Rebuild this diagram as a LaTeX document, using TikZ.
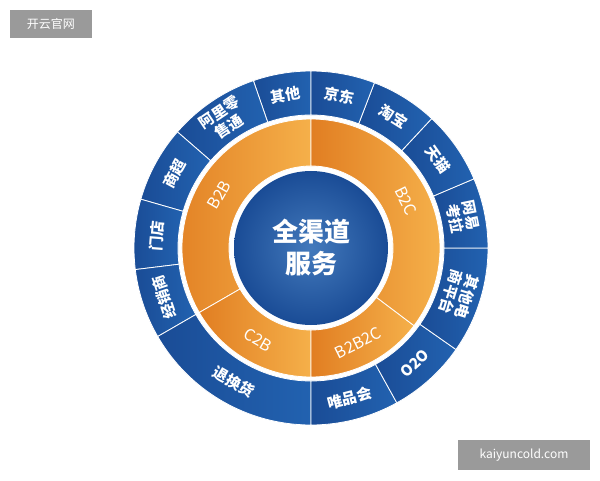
\documentclass[tikz,border=0pt]{standalone}
\usepackage{fontspec}
\newfontfamily\cjk{Noto Sans CJK SC}
\definecolor{ringblue}{HTML}{2262B0}
\definecolor{ringbluedk}{HTML}{1A4C96}
\definecolor{ringorange}{HTML}{E17E22}
\definecolor{ringorangelt}{HTML}{F5B04A}
\definecolor{markgray}{HTML}{9A9A9A}

\begin{document}
\begin{tikzpicture}
        [
            x = 1pt, y = 1pt,
            outseg/.style = {draw=white, line width=.8pt,
                left color=ringbluedk, right color=ringblue},
            inseg/.style = {draw=white, line width=.8pt,
                left color=ringorange, right color=ringorangelt},
            outlbl/.style = {text=white, align=center, inner sep=1pt,
                font=\cjk\bfseries\fontsize{15}{17}\selectfont},
            inlbl/.style = {text=white, inner sep=1pt, font=\cjk\fontsize{16}{17}\selectfont}
        ]
        \useasboundingbox (0,0) rectangle (600,480);
        \coordinate (O) at (311,232);
        \begin{scope}[shift={(O)}]
            % outer blue ring
            \foreach \a/\b in {90/109, 109/139, 139/164, 164/187, 187/210,
                210/270, 270/299, 299/325, 325/360, 0/23, 23/47, 47/69, 69/90}
                \path [outseg] (\a:133) arc [start angle=\a, end angle=\b, radius=133]
                    -- (\b:177) arc [start angle=\b, end angle=\a, radius=177] -- cycle;
            % orange ring
            \foreach \a/\b in {90/210, 210/270, 270/323, 323/450}
                \path [inseg] (\a:82) arc [start angle=\a, end angle=\b, radius=82]
                    -- (\b:129) arc [start angle=\b, end angle=\a, radius=129] -- cycle;
            % centre disk
            \shade [inner color=ringblue!85!white, outer color=ringbluedk] (0,0) circle (77);
            \node [text=white, align=center, font=\cjk\bfseries\fontsize{26}{32}\selectfont] (core) at (0,0) {全渠道\\服务};
            % labels
            \foreach \n/\m/\r/\t in {other/99.5/9.5/其他, ali/124/34/阿里零\\售通,
                mall/151.5/61.5/商超, shop/175.5/85.5/门店, dealer/198.5/108.5/经销商,
                refund/240/330/退换货, vip/284.5/14.5/唯品会, oto/312/42/O2O,
                plat/342.5/-107.5/其他电\\商平台, kaola/11.5/-78.5/网易\\考拉,
                tmall/35/-55/天猫, taobao/58/-32/淘宝, jd/79.5/-10.5/京东}
                \node [outlbl, rotate=\r] (\n) at (\m:155) {\t};
            \foreach \n/\m/\r/\t in {btob/150/60/B2B, ctob/240/-30/C2B,
                btobtoc/296.5/26.5/B2B2C, btoc/26.5/-63.5/B2C}
                \node [inlbl, rotate=\r] (\n) at (\m:106) {\t};
        \end{scope}
        % corner marks
        \node [fill=markgray, text=white, font=\cjk\fontsize{12}{14}\selectfont,
            minimum width=82pt, minimum height=28pt] (site) at (51,456) {开云官网};
        \node [fill=markgray, text=white, font=\cjk\fontsize{12}{14}\selectfont,
            minimum width=132pt, minimum height=30pt] (url) at (524,25) {kaiyuncold.com};
    \end{tikzpicture}
\end{document}
